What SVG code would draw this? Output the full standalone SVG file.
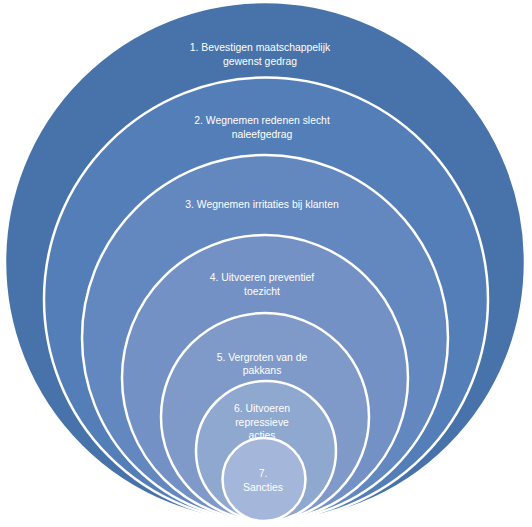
<svg xmlns="http://www.w3.org/2000/svg" width="532" height="527" viewBox="0 0 532 527">
<style>
.c{stroke:#ffffff;stroke-width:2.5}
.t{font-family:"Liberation Sans",Arial,sans-serif;font-size:10.4px;fill:#ffffff;text-anchor:middle}
</style>
<rect width="532" height="527" fill="#ffffff"/>
<g id="n1"><circle class="c" cx="265" cy="262" r="260" fill="#4773aa"/>
<text class="t" x="260" y="51">1. Bevestigen maatschappelijk</text><text class="t" x="260" y="65">gewenst gedrag</text></g>
<g id="n2"><circle class="c" cx="266" cy="299.5" r="222" fill="#537eb8"/>
<text class="t" x="262" y="124">2. Wegnemen redenen  slecht</text><text class="t" x="262" y="138">naleefgedrag</text></g>
<g id="n3"><circle class="c" cx="265" cy="338" r="183" fill="#6388c0"/>
<text class="t" x="262" y="208">3. Wegnemen irritaties bij klanten</text></g>
<g id="n4"><circle class="c" cx="265" cy="378" r="143" fill="#7391c4"/>
<text class="t" x="262" y="281">4. Uitvoeren preventief</text><text class="t" x="262" y="295">toezicht</text></g>
<g id="n5"><circle class="c" cx="265" cy="417" r="104" fill="#7f9ac9"/>
<text class="t" x="262" y="361">5. Vergroten van de</text><text class="t" x="262" y="374">pakkans</text></g>
<g id="n6"><circle class="c" cx="266" cy="451" r="70" fill="#8fa8d0"/>
<text class="t" x="262" y="412">6. Uitvoeren</text><text class="t" x="262" y="426">repressieve</text><text class="t" x="262" y="439">acties</text></g>
<g id="n7"><circle class="c" cx="264" cy="479.5" r="41.5" fill="#a4b6da"/>
<text class="t" x="263" y="477">7.</text><text class="t" x="263" y="491">Sancties</text></g>
<g id="connectors"/>
</svg>
